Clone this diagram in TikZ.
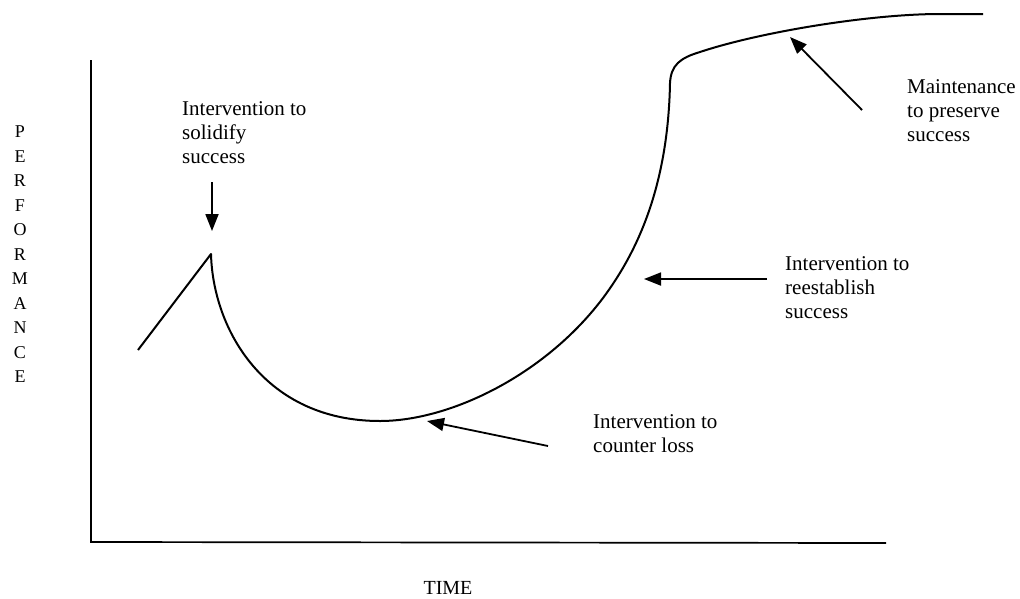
\documentclass[tikz,border=0pt]{standalone}
\usepackage{fontspec}
\setmainfont{Liberation Serif}
\usetikzlibrary{arrows.meta}
\begin{document}
\begin{tikzpicture}[x=1pt,y=-1pt,
  axis/.style={line width=1.7pt},
  trend/.style={line width=2pt,line join=round},
  pointer/.style={line width=1.8pt,-{Triangle[length=17pt,width=13pt]}},
  note/.style={anchor=north west,inner sep=0pt,align=left,
    font=\fontsize{21}{24}\selectfont},
  axislabel/.style={inner sep=0pt,align=center}]
\useasboundingbox (0,0) rectangle (1020,598);

% axes
\coordinate (ytop) at (91,60);
\coordinate (origin) at (91,542);
\coordinate (xend) at (886,543);
\draw[axis] (ytop) -- (origin) -- (xend);

% axis titles
\node[axislabel,anchor=north,font=\fontsize{18}{24.5}\selectfont] (perf) at (20,126)
  {P\\E\\R\\F\\O\\R\\M\\A\\N\\C\\E};
\node[axislabel,font=\fontsize{20}{24}\selectfont] (time) at (448,588) {TIME};

% performance curve
\coordinate (start) at (138,350);
\coordinate (peak) at (211,254);
\coordinate (low) at (380,421);
\coordinate (rise) at (603,298);
\coordinate (knee) at (670,83);
\coordinate (bend) at (700,52);
\coordinate (flat) at (940,14);
\coordinate (finish) at (983,14);
\draw[trend] (start) -- (peak)
  .. controls (213,330) and (265,421) .. (low)
  .. controls (450,421) and (545,375) .. (rise)
  .. controls (635,255) and (668,190) .. (knee)
  .. controls (671,65) and (680,58) .. (bend)
  .. controls (760,32) and (870,14) .. (flat) -- (finish);

% annotations
\node[note] (solid) at (182,101) {Intervention to\\solidify\\success};
\node[note] (counter) at (593,414) {Intervention to\\counter loss};
\node[note] (reest) at (785,256) {Intervention to\\reestablish\\success};
\node[note] (maint) at (907,79) {Maintenance\\to preserve\\success};

% annotation pointers
\coordinate (a1s) at (212,182);
\coordinate (a1e) at (212,231);
\coordinate (a2s) at (548,446);
\coordinate (a2e) at (427,421);
\coordinate (a3s) at (767,279);
\coordinate (a3e) at (644,279);
\coordinate (a4s) at (862,110);
\coordinate (a4e) at (790,37);
\draw[pointer] (a1s) -- (a1e);
\draw[pointer] (a2s) -- (a2e);
\draw[pointer] (a3s) -- (a3e);
\draw[pointer] (a4s) -- (a4e);
\end{tikzpicture}
\end{document}
